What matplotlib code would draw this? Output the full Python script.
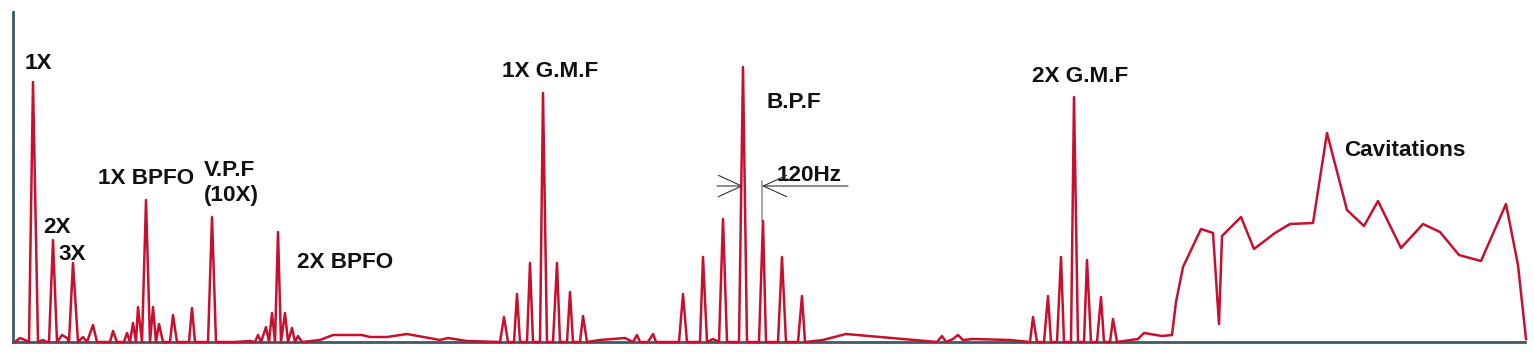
import matplotlib
matplotlib.use("Agg")
from matplotlib import pyplot as plt

# frequency (arbitrary units) and amplitude
freq = [2, 7, 12, 16, 20, 25, 30, 34, 36, 40, 44, 49, 54, 56, 60, 65, 70, 74, 80, 84,
        97, 100, 104, 111, 114, 117, 120, 123, 125, 129, 133, 137, 140, 143, 146, 150,
        157, 160, 164, 176, 179, 182, 195, 199, 203, 222, 237, 242, 245, 248, 253, 256,
        259, 262, 265, 268, 272, 275, 279, 282, 285, 289,
        307, 320, 349, 357, 374, 394, 427, 435, 454, 487, 491, 495, 501, 504, 507, 514,
        517, 520, 527, 530, 534, 540, 544, 547, 554, 557, 560, 567, 570, 574, 587, 612,
        620, 624, 627, 635, 640, 643, 666, 670, 674,
        687, 690, 694, 700, 706, 710, 714, 726, 730, 734, 746, 750, 753, 765, 769, 773,
        785, 789, 792, 810, 833, 924, 929, 933, 940, 945,
        950, 960, 997, 1017, 1020, 1024, 1031, 1035, 1038, 1044, 1048, 1051, 1058, 1061,
        1065, 1071, 1074, 1078, 1084, 1088, 1091, 1097, 1100, 1104, 1125, 1131, 1149,
        1159, 1163, 1170, 1188, 1200, 1206, 1209, 1228, 1241, 1262, 1277, 1300, 1314,
        1334, 1351, 1365, 1388, 1410, 1427, 1446, 1468, 1493, 1505, 1513]
amp = [0, 4, 2, 0, 260, 0, 2, 0, 0, 102, 0, 7, 4, 0, 79, 0, 5, 0, 17, 0,
       0, 11, 0, 0, 9, 0, 19, 0, 35, 0, 142, 0, 35, 0, 18, 0,
       0, 27, 0, 0, 34, 0, 0, 125, 0, 0, 1, 0, 7, 0, 15, 0,
       29, 0, 110, 0, 29, 0, 14, 0, 6, 0,
       2, 7, 7, 5, 5, 8, 2, 4, 1, 0, 25, 0, 0, 48, 0, 0,
       79, 0, 0, 249, 0, 0, 79, 0, 0, 50, 0, 0, 26, 0, 2, 4,
       0, 7, 0, 0, 8, 0, 0, 48, 0,
       0, 85, 0, 3, 0, 123, 0, 0, 275, 0, 0, 121, 0, 0, 85, 0,
       0, 46, 0, 2, 8, 0, 6, 0, 3, 7,
       2, 3, 2, 0, 25, 0, 0, 46, 0, 0, 85, 0, 0, 245,
       0, 0, 82, 0, 0, 45, 0, 0, 23, 0, 3, 9, 6,
       7, 40, 75, 113, 109, 18, 106, 125, 93, 109, 118, 119, 209,
       132, 116, 141, 94, 118, 110, 87, 81, 138, 77, 3]

labels = ["1X", "2X", "3X", "1X BPFO", "V.P.F", "(10X)", "2X BPFO",
          "1X G.M.F", "B.P.F", "120Hz", "2X G.M.F", "Cavitations"]
label_x = [12, 30, 46, 85, 191, 191, 284, 489, 754, 764, 1019, 1331]
label_y = [273, 109, 82, 158, 166, 141, 74, 265, 234, 161, 260, 186]

fig = plt.figure(figsize=(15.34, 3.52), dpi=100)
ax = fig.add_axes([13/1534, 10/352, 1512/1534, 330/352])

ax.plot(freq, amp, color='#c8102e', lw=1.8, clip_on=False, zorder=3)

for t, x, y in zip(labels, label_x, label_y):
    ax.text(x, y, t, fontsize=16.2, fontweight='bold', family='Liberation Sans',
            ha='left', va='baseline', color='#111111')

# 120Hz side band spacing marker
ax.annotate('', xy=(730, 156), xytext=(704, 156),
            arrowprops=dict(arrowstyle='->,head_length=1.2,head_width=0.55',
                            color='#333333', lw=0.8, shrinkA=0, shrinkB=0,
                            mutation_scale=14))
ax.annotate('', xy=(749, 156), xytext=(835, 156),
            arrowprops=dict(arrowstyle='->,head_length=1.2,head_width=0.55',
                            color='#333333', lw=0.8, shrinkA=0, shrinkB=0,
                            mutation_scale=14))
ax.plot([749, 749], [121, 161], color='#999999', lw=1.2, zorder=2)

ax.set_xlim(0, 1512)
ax.set_ylim(0, 330)
ax.set_xticks([])
ax.set_yticks([])
for s in ['top', 'right']:
    ax.spines[s].set_visible(False)
for s in ['left', 'bottom']:
    ax.spines[s].set_color('#3e5a68')
    ax.spines[s].set_linewidth(2)

fig.savefig('out.png', dpi=100)
